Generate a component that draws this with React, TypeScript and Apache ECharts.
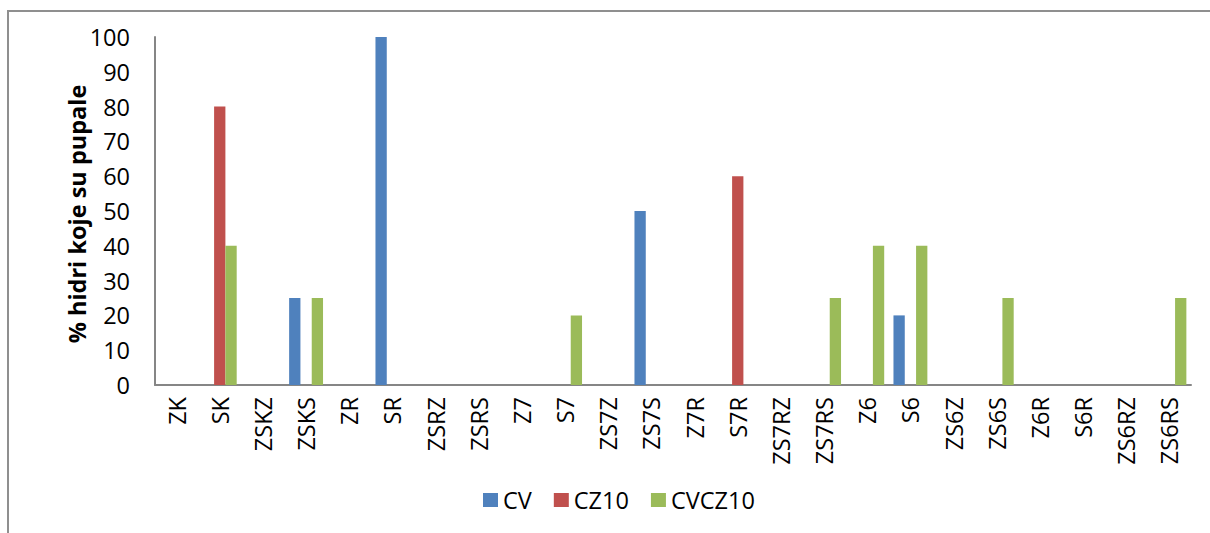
import React, { useEffect, useRef } from "react";
import * as echarts from "echarts";

const categories = [
  "ZK", "SK", "ZSKZ", "ZSKS", "ZR", "SR", "ZSRZ", "ZSRS", "Z7", "S7", "ZS7Z", "ZS7S",
  "Z7R", "S7R", "ZS7RZ", "ZS7RS", "Z6", "S6", "ZS6Z", "ZS6S", "Z6R", "S6R", "ZS6RZ", "ZS6RS",
];
const seriesNames = ["CV", "CZ10", "CVCZ10"];
const cvValues = [0, 0, 0, 25, 0, 100, 0, 0, 0, 0, 0, 50, 0, 0, 0, 0, 0, 20, 0, 0, 0, 0, 0, 0];
const cz10Values = [0, 80, 0, 0, 0, 0, 0, 0, 0, 0, 0, 0, 0, 60, 0, 0, 0, 0, 0, 0, 0, 0, 0, 0];
const cvcz10Values = [0, 40, 0, 25, 0, 0, 0, 0, 0, 20, 0, 0, 0, 0, 0, 25, 40, 40, 0, 25, 0, 0, 0, 25];
const colors = ["#4F81BD", "#C0504D", "#9BBB59"];
const yTitle = "% hidri koje su pupale";

const FONT = "'Open Sans', 'DejaVu Sans', sans-serif";

export default function App() {
  const ref = useRef<HTMLDivElement>(null);
  useEffect(() => {
    if (!ref.current) return;
    const chart = echarts.init(ref.current, undefined, { renderer: "svg" });
    const values = [cvValues, cz10Values, cvcz10Values];
    chart.setOption({
      animation: false,
      backgroundColor: "#ffffff",
      textStyle: { fontFamily: FONT },
      grid: { left: 155, right: 19, top: 37, bottom: 148, containLabel: false },
      legend: {
        data: seriesNames,
        left: 483,
        top: 488,
        padding: 0,
        icon: "rect",
        itemWidth: 15,
        itemHeight: 14,
        itemGap: 22,
        textStyle: { fontFamily: FONT, fontSize: 23.5, color: "#000" },
      },
      xAxis: {
        type: "category",
        data: categories,
        axisLine: { show: true, lineStyle: { color: "#868686", width: 2 } },
        axisTick: { show: false },
        axisLabel: {
          interval: 0,
          rotate: 90,
          margin: 12,
          color: "#000",
          fontFamily: FONT,
          fontSize: 23.5,
        },
      },
      yAxis: {
        type: "value",
        min: 0,
        max: 100,
        interval: 10,
        axisLine: { show: true, lineStyle: { color: "#868686", width: 2 } },
        axisTick: { show: false },
        splitLine: { show: false },
        axisLabel: { margin: 25, color: "#000", fontFamily: FONT, fontSize: 23.5 },
      },
      graphic: [
        {
          type: "rect",
          shape: { x: 8, y: 11, width: 1400, height: 700 },
          style: { fill: "none", stroke: "#8f8f8f", lineWidth: 2 },
          silent: true,
        },
        {
          type: "text",
          x: 77,
          y: 214,
          rotation: Math.PI / 2,
          style: {
            text: yTitle,
            fontFamily: FONT,
            fontSize: 23.5,
            fontWeight: "bold",
            fill: "#000",
            align: "center",
            verticalAlign: "middle",
          },
        },
      ],
      series: seriesNames.map((name, i) => ({
        name,
        type: "bar",
        data: values[i],
        barWidth: 11.3,
        barGap: "0%",
        itemStyle: { color: colors[i] },
      })),
    });
    return () => chart.dispose();
  }, []);
  return (
    <div
      ref={ref}
      style={{ position: "fixed", left: 0, top: 0, width: 1210, height: 533 }}
    />
  );
}
